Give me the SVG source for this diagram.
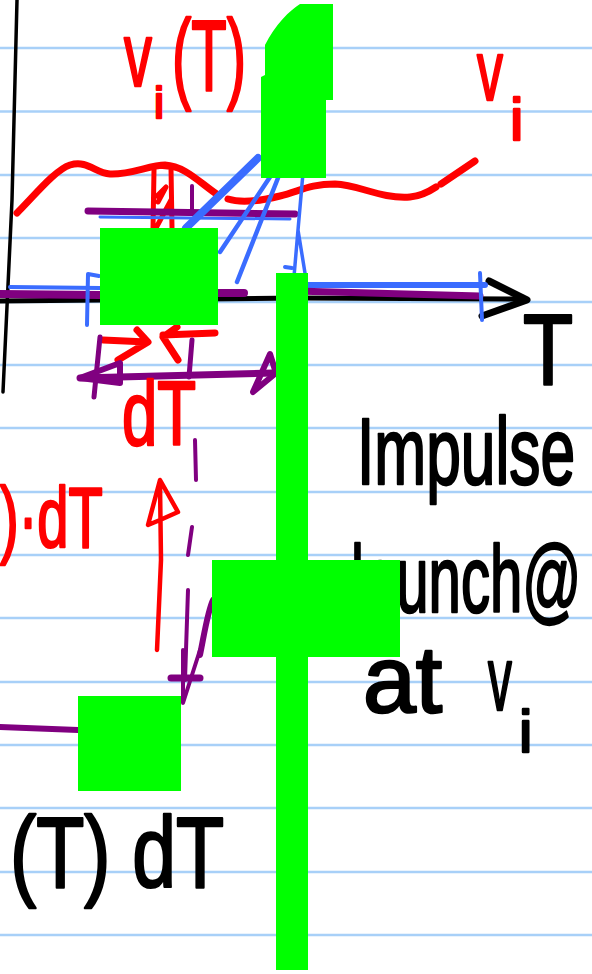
<svg xmlns="http://www.w3.org/2000/svg" width="592" height="974" viewBox="0 0 592 974">
<style>
.rule{stroke:#a8d0f8;stroke-width:2.5;fill:none}
.s{fill:none;stroke-linecap:round;stroke-linejoin:round}
.red{stroke:#ff0000}
.pur{stroke:#800080}
.blu{stroke:#3a6cff}
.blk{stroke:#000000}
.grn{fill:#00ff00;stroke:none}
text{font-family:"Liberation Sans",Arial,sans-serif;stroke-width:2.5;stroke-linejoin:round}
.tr{fill:#ff0000;stroke:#ff0000}
.tk{fill:#000000;stroke:#000000}
</style>
<rect width="592" height="974" fill="#ffffff"/>
<g id="rules">
<line class="rule" x1="0" y1="48" x2="592" y2="48"/>
<line class="rule" x1="0" y1="111.5" x2="592" y2="111.5"/>
<line class="rule" x1="0" y1="175" x2="592" y2="175"/>
<line class="rule" x1="0" y1="238" x2="592" y2="238"/>
<line class="rule" x1="0" y1="302" x2="592" y2="302"/>
<line class="rule" x1="0" y1="365" x2="592" y2="365"/>
<line class="rule" x1="0" y1="428" x2="592" y2="428"/>
<line class="rule" x1="0" y1="492" x2="592" y2="492"/>
<line class="rule" x1="0" y1="555" x2="592" y2="555"/>
<line class="rule" x1="0" y1="618" x2="592" y2="618"/>
<line class="rule" x1="0" y1="682" x2="592" y2="682"/>
<line class="rule" x1="0" y1="745" x2="592" y2="745"/>
<line class="rule" x1="0" y1="808" x2="592" y2="808"/>
<line class="rule" x1="0" y1="872" x2="592" y2="872"/>
<line class="rule" x1="0" y1="935" x2="592" y2="935"/>
</g>
<g id="axes">
<path class="s blk" stroke-width="3.5" d="M17,0 L12,200 L3,392"/>
<path class="s blk" stroke-width="5" d="M0,301 L300,298 L525,299"/>
<path class="s blk" stroke-width="7" d="M489,281 L527,300 L482,316"/>
</g>
<g id="connectors">
<path class="s red" stroke-width="7" d="M17,213 C35,195 55,170 70,165 C88,160 95,173 110,174 C130,175 150,165 165,165 C185,166 200,183 218,195"/>
<path class="s red" stroke-width="7" d="M228,199 C240,203 260,201 280,196 C300,191 310,184 335,184 C360,185 380,199 410,197 C422,196 430,191 436,187"/>
<path class="s red" stroke-width="7" d="M441,184 L475,161"/>
<path class="s red" stroke-width="5" d="M154,170 L153,228 M171,168 L172,228 M156,228 L171,200 M157,196 L166,187 L158,202 M158,166 L177,168"/>
<path class="s blu" stroke-width="3" d="M100,217 L290,219"/>
<path class="s pur" stroke-width="7" d="M88,211 L295,214"/>
<path class="s pur" stroke-width="4" d="M192,186 L192,212"/>
<path class="s blu" stroke-width="8" d="M186,228 L258,158"/>
<path class="s blu" stroke-width="4.5" d="M220,252 L270,177"/>
<path class="s blu" stroke-width="4.5" d="M237,282 L278,178"/>
<path class="s blu" stroke-width="3.5" d="M303,173 L298,230 L290,323 M298,230 L305,273"/>
<path class="s blu" stroke-width="4" d="M10,287 L100,288"/>
<path class="s pur" stroke-width="8" d="M0,294 L100,295"/>
<path class="s pur" stroke-width="8" d="M218,293 L244,293"/>
<path class="s blu" stroke-width="6" d="M297,285 L485,285"/>
<path class="s pur" stroke-width="7" d="M295,291 L480,296"/>
<path class="s blu" stroke-width="4" d="M87,325 L88,274 L99,276"/>
<path class="s blu" stroke-width="4" d="M285,267 L292,268"/>
<path class="s blu" stroke-width="4" d="M480,273 L482,320"/>
<path class="s red" stroke-width="7" d="M103,340 L147,342 M137,330 L148,342 L118,360"/>
<path class="s red" stroke-width="7" d="M215,333 L163,335 M177,327 L163,337 L178,360"/>
<path class="s pur" stroke-width="5" d="M100,337 L94,397 M192,340 L189,377"/>
<path class="s pur" stroke-width="7" d="M80,378 L273,373"/>
<path class="s pur" stroke-width="6" fill="#800080" d="M80,378 L120,363 L120,383 Z"/>
<path class="s pur" stroke-width="6" d="M270,354 L276,373 L253,392 Z"/>
<path class="s pur" stroke-width="4" d="M195,440 L196,480 M192,527 L188,555 M188,590 L185,680"/>
<path class="s pur" stroke-width="4" d="M183,650 L183,703 L200,650"/>
<path class="s pur" stroke-width="6" d="M200,655 C205,630 208,610 213,600"/>
<path class="s pur" stroke-width="7" d="M171,678 L200,678"/>
<path class="s pur" stroke-width="6" d="M0,727 L78,730"/>
<path class="s red" stroke-width="4.5" d="M157,650 L161,560 L160,483 M160,520 L148,525 L160,480 L178,512 L160,520"/>
</g>
<g id="labels">
<text class="tr" transform="translate(124,86) scale(0.62,1)" font-size="90">v</text>
<text class="tr" x="154" y="118" font-size="45">i</text>
<text class="tr" transform="translate(172,90) scale(0.58,1)" font-size="100">(T)</text>
<text class="tr" transform="translate(477,100) scale(0.61,1)" font-size="85">v</text>
<text class="tr" x="510" y="140" font-size="60">i</text>
<text class="tk" transform="translate(523,384) scale(0.82,1)" font-size="100">T</text>
<text class="tr" transform="translate(122,445) scale(0.705,1)" font-size="90">dT</text>
<text class="tr" transform="translate(0,547) scale(0.66,1)" font-size="85">)·dT</text>
<text class="tk" transform="translate(357,484) scale(0.656,1)" font-size="95">Impulse</text>
<text class="tk" transform="translate(351,612) scale(0.612,1)" font-size="95">launch@</text>
<text class="tk" x="363" y="712" font-size="95">at</text>
<text class="tk" transform="translate(488,710) scale(0.53,1)" font-size="90">v</text>
<text class="tk" x="519" y="752" font-size="60">i</text>
<text class="tk" transform="translate(10,887) scale(0.787,1)" font-size="100">(T) dT</text>
</g>
<g id="green-boxes">
<path class="grn" d="M265,45 C275,25 290,10 300,4 L333,4 L333,100 L326,100 L326,178 L261,178 L261,77 L265,75 Z"/>
<rect class="grn" x="100" y="228" width="118" height="97"/>
<rect class="grn" x="276" y="273" width="32" height="697"/>
<rect class="grn" x="212" y="560" width="188" height="97"/>
<rect class="grn" x="78" y="696" width="103" height="95"/>
</g>
</svg>
